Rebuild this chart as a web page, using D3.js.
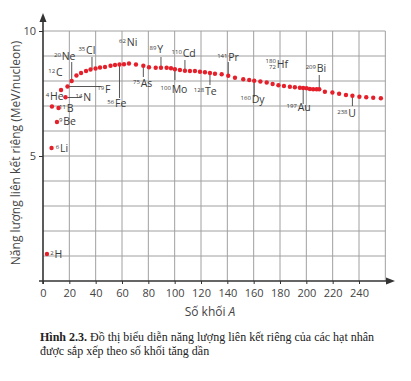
<!DOCTYPE html>
<html>
<head>
<meta charset="utf-8">
<script src="https://cdn.jsdelivr.net/npm/d3@7"></script>
<style>
  body { margin: 0; background: #fff; }
  svg { display: block; }
</style>
</head>
<body>
<div id="wrapper"></div>
<script>
// mass number A and binding energy per nucleon (MeV)
const massA = [3, 6.5, 10.6, 6.8, 11.8, 17.1, 13.7, 18.6, 21.8, 25.4, 28.9, 32.7, 36.1, 39.9, 43.3, 47.1, 51.3, 54.7, 58.1,
  61.5, 65.3, 70.6, 76.2, 80.5, 85.6, 89.6, 93.9, 97.2, 100.2, 104.0, 107.8, 111.6, 115.4, 119.2, 123.0, 126.8, 130.6,
  135.7, 140.7, 145.8, 152.1, 156.6, 160.4, 165.1, 169.9, 174.4, 178.8, 183.0, 187.5, 191.3, 195.1, 197.6, 200.2, 202.7,
  205.2, 207.8, 209.8, 214.1, 219.8, 224.9, 230.1, 235.0, 240.3, 245.5, 250.8, 256.6]
const bindE = [1.08, 5.32, 6.36, 6.98, 6.92, 7.35, 7.64, 7.78, 8.0, 8.22, 8.32, 8.40, 8.46, 8.50, 8.54, 8.56, 8.61, 8.64, 8.66,
  8.67, 8.70, 8.66, 8.61, 8.55, 8.53, 8.53, 8.53, 8.51, 8.47, 8.44, 8.41, 8.40, 8.40, 8.37, 8.35, 8.32, 8.29,
  8.27, 8.21, 8.13, 8.07, 8.04, 8.01, 7.98, 7.94, 7.88, 7.83, 7.80, 7.77, 7.75, 7.73, 7.72, 7.71, 7.68,
  7.67, 7.67, 7.67, 7.57, 7.54, 7.49, 7.44, 7.41, 7.37, 7.35, 7.33, 7.31]

const xTicks = [0, 20, 40, 60, 80, 100, 120, 140, 160, 180, 200, 220, 240]
const xGrid = [20, 40, 60, 80, 100, 120, 140, 160, 180, 200, 220, 240, 260]
const yTicks = [5, 10]
const yGrid = [1, 2, 3, 4, 5, 6, 7, 8, 9, 10]

// nuclide labels: symbol start (a, e) in data units
const nuclides = [
  {sym: "H", mass: "2", a: 8.7, e: 0.92},
  {sym: "Li", mass: "6", a: 12.9, e: 5.16},
  {sym: "Be", mass: "9", a: 15.4, e: 6.24},
  {sym: "He", mass: "4", a: 5.3, e: 7.25},
  {sym: "N", mass: "14", a: 30.6, e: 7.2},
  {sym: "B", mass: "11", a: 18, e: 6.75},
  {sym: "C", mass: "12", a: 9.9, e: 8.2},
  {sym: "Ne", mass: "20", a: 14.2, e: 8.84},
  {sym: "Cl", mass: "35", a: 32.7, e: 9.07},
  {sym: "Ni", mass: "62", a: 63.6, e: 9.4},
  {sym: "F", mass: "19", a: 47.1, e: 7.53},
  {sym: "Fe", mass: "56", a: 54.7, e: 6.97},
  {sym: "As", mass: "75", a: 74.2, e: 7.77},
  {sym: "Y", mass: "89", a: 86.8, e: 9.13},
  {sym: "Cd", mass: "110", a: 106.1, e: 8.95},
  {sym: "Mo", mass: "100", a: 97.7, e: 7.51},
  {sym: "Te", mass: "128", a: 123, e: 7.44},
  {sym: "Pr", mass: "141", a: 140.7, e: 8.8},
  {sym: "Dy", mass: "160", a: 158.5, e: 7.11},
  {sym: "Hf", mass: "180", sub: "72", a: 177.5, e: 8.51},
  {sym: "Bi", mass: "209", a: 207.9, e: 8.37},
  {sym: "Au", mass: "197", a: 193.4, e: 6.8},
  {sym: "U", mass: "238", a: 231.9, e: 6.55}
]

// leader lines (data units)
const leaders = [
  {a1: 18.6, a2: 29, e1: 7.34, e2: 7.34},
  {a1: 19.5, a2: 44.5, e1: 7.78, e2: 7.78},
  {a1: 21.8, a2: 21.8, e1: 8.76, e2: 8.0},
  {a1: 37.2, a2: 37.2, e1: 8.96, e2: 8.48},
  {a1: 58.1, a2: 58.1, e1: 8.64, e2: 7.32},
  {a1: 76.2, a2: 76.2, e1: 8.6, e2: 8.16},
  {a1: 89.6, a2: 89.6, e1: 8.96, e2: 8.53},
  {a1: 107.8, a2: 107.8, e1: 8.84, e2: 8.41},
  {a1: 100.2, a2: 100.2, e1: 8.47, e2: 8.04},
  {a1: 126.8, a2: 126.8, e1: 8.32, e2: 7.84},
  {a1: 140.7, a2: 140.7, e1: 8.76, e2: 8.21},
  {a1: 160.4, a2: 160.4, e1: 8.0, e2: 7.36},
  {a1: 209.8, a2: 209.8, e1: 8.24, e2: 7.67},
  {a1: 197.6, a2: 197.6, e1: 7.72, e2: 7.08},
  {a1: 235.0, a2: 235.0, e1: 7.41, e2: 7.0}
]

const width = 411
const height = 381

const svg = d3.select("#wrapper")
  .append("svg")
  .attr("width", width)
  .attr("height", height)

const x = d3.scaleLinear().domain([0, 240]).range([43, 359])
const y = d3.scaleLinear().domain([0, 10]).range([281, 31])

const sans = "'Open Sans', 'Noto Sans', sans-serif"

// grid
svg.append("g").selectAll("line")
  .data(xGrid)
  .enter()
  .append("line")
    .attr("x1", d => x(d)).attr("x2", d => x(d))
    .attr("y1", y(0)).attr("y2", y(10))
    .attr("stroke", "#a0a0a0")
    .attr("stroke-width", 1)

svg.append("g").selectAll("line")
  .data(yGrid)
  .enter()
  .append("line")
    .attr("x1", x(0)).attr("x2", x(260))
    .attr("y1", d => y(d)).attr("y2", d => y(d))
    .attr("stroke", "#a0a0a0")
    .attr("stroke-width", 1)

// axes
const xAxis = svg.append("g")
  .attr("transform", `translate(0, ${y(0)})`)
  .call(d3.axisBottom(x).tickValues(xTicks).tickSize(3).tickPadding(5))
xAxis.select(".domain").remove()
xAxis.selectAll("line").attr("stroke", "#333")
xAxis.selectAll("text")
  .attr("font-family", sans)
  .attr("font-size", "11px")
  .attr("fill", "#444")

const yAxis = svg.append("g")
  .attr("transform", `translate(${x(0)}, 0)`)
  .call(d3.axisLeft(y).tickValues(yTicks).tickSize(4).tickPadding(3))
yAxis.select(".domain").remove()
yAxis.selectAll("line").attr("stroke", "#333")
yAxis.selectAll("text")
  .attr("font-family", sans)
  .attr("font-size", "11px")
  .attr("fill", "#444")

// axis lines with arrows
svg.append("line")
  .attr("x1", x(0) - 4).attr("x2", 388)
  .attr("y1", y(0)).attr("y2", y(0))
  .attr("stroke", "#333").attr("stroke-width", 1.6)
svg.append("path")
  .attr("d", `M395,${y(0)} L386,${y(0) - 3.5} L386,${y(0) + 3.5} Z`)
  .attr("fill", "#333")

svg.append("line")
  .attr("x1", x(0)).attr("x2", x(0))
  .attr("y1", y(0) + 3).attr("y2", 20)
  .attr("stroke", "#333").attr("stroke-width", 1.6)
svg.append("path")
  .attr("d", `M${x(0)},13 L${x(0) - 3.5},22 L${x(0) + 3.5},22 Z`)
  .attr("fill", "#333")

// leader lines
svg.append("g").selectAll("line")
  .data(leaders)
  .enter()
  .append("line")
    .attr("x1", d => x(d.a1)).attr("x2", d => x(d.a2))
    .attr("y1", d => y(d.e1)).attr("y2", d => y(d.e2))
    .attr("stroke", "#444")
    .attr("stroke-width", 0.9)

// dots
svg.append("g").selectAll("circle")
  .data(massA)
  .enter()
  .append("circle")
    .attr("cx", d => x(d))
    .attr("cy", (d, i) => y(bindE[i]))
    .attr("r", 2.2)
    .attr("fill", "#e5202b")

// nuclide labels
const lab = svg.append("g").selectAll("g")
  .data(nuclides)
  .enter()
  .append("g")
    .attr("transform", d => `translate(${x(d.a)}, ${y(d.e)})`)

lab.append("text")
  .text(d => d.sym)
  .attr("font-family", sans)
  .attr("font-size", "10.5px")
  .attr("fill", "#3a3a3a")

lab.append("text")
  .text(d => d.mass)
  .attr("x", -0.8)
  .attr("y", d => d.sub ? -5.5 : -3.2)
  .attr("text-anchor", "end")
  .attr("font-family", sans)
  .attr("font-size", "6px")
  .attr("fill", "#3a3a3a")

lab.filter(d => d.sub).append("text")
  .text(d => d.sub)
  .attr("x", -0.8)
  .attr("y", 1)
  .attr("text-anchor", "end")
  .attr("font-family", sans)
  .attr("font-size", "6px")
  .attr("fill", "#3a3a3a")

// axis titles
svg.append("text")
  .attr("transform", `translate(20, 153) rotate(-90)`)
  .attr("text-anchor", "middle")
  .attr("font-family", sans)
  .attr("font-size", "12px")
  .attr("fill", "#444")
  .text("Năng lượng liên kết riêng (MeV/nucleon)")

const xLabel = svg.append("text")
  .attr("x", 210)
  .attr("y", 316)
  .attr("text-anchor", "middle")
  .attr("font-family", sans)
  .attr("font-size", "12px")
  .attr("fill", "#444")
xLabel.append("tspan").text("Số khối ")
xLabel.append("tspan").attr("font-style", "italic").text("A")

// caption
const serif = "'Liberation Serif', 'Times New Roman', serif"
const cap = svg.append("text")
  .attr("x", 40)
  .attr("y", 341)
  .attr("font-family", serif)
  .attr("font-size", "12px")
  .attr("fill", "#222")
cap.append("tspan").attr("font-weight", "bold").text("Hình 2.3.")
cap.append("tspan").text(" Đồ thị biểu diễn năng lượng liên kết riêng của các hạt nhân")

svg.append("text")
  .attr("x", 40)
  .attr("y", 355)
  .attr("font-family", serif)
  .attr("font-size", "12px")
  .attr("fill", "#222")
  .text("được sắp xếp theo số khối tăng dần")
</script>
</body>
</html>
